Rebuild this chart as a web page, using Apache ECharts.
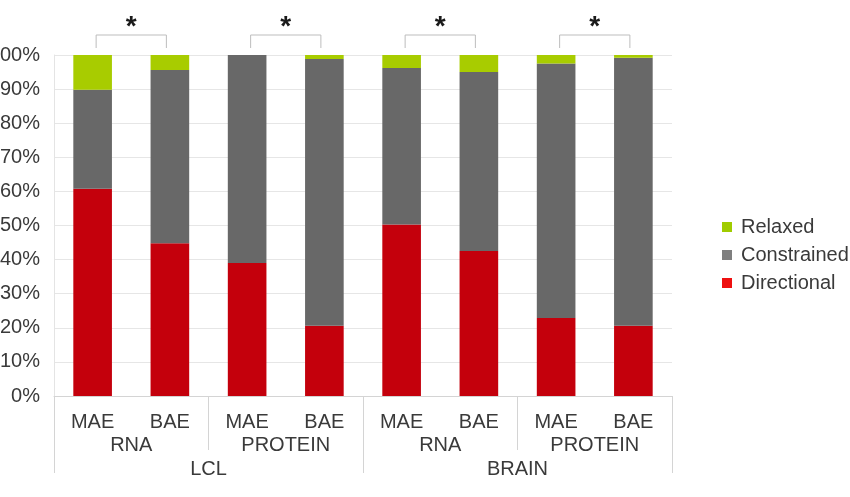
<!DOCTYPE html>
<html>
<head>
<meta charset="utf-8">
<script src="https://cdn.jsdelivr.net/npm/echarts@6/dist/echarts.min.js"></script>
<style>
html,body{margin:0;padding:0;background:#fff;}
#chart{width:850px;height:497px;}
</style>
</head>
<body>
<div id="chart"></div>
<script>
const categories = ['MAE','BAE','MAE','BAE','MAE','BAE','MAE','BAE'];
const assays = ['RNA','PROTEIN','RNA','PROTEIN'];
const tissues = ['LCL','BRAIN'];
const directional = [60.8, 44.8, 39.0, 20.6, 50.3, 42.5, 22.9, 20.6];
const constrained = [29.0, 50.8, 61.0, 78.2, 45.9, 52.5, 74.6, 78.6];
const relaxed = [10.2, 4.4, 0.0, 1.2, 3.8, 5.0, 2.5, 0.8];
const sigPairs = [[0,1],[2,3],[4,5],[6,7]];
const sigLabels = ['*','*','*','*'];
const yTicks = [0,10,20,30,40,50,60,70,80,90,100];

const FONT = 'Liberation Sans, Arial, sans-serif';
const TXT = '#3a3a3a';
const LINE = '#d4d4d4';

const chart = echarts.init(document.getElementById('chart'), null, {renderer:'canvas'});
const option = {
  animation: false,
  backgroundColor: '#fff',
  grid: {left: 54, top: 55, width: 618, height: 341, containLabel: false, outerBoundsMode: 'none'},
  legend: {
    orient: 'vertical',
    left: 717,
    top: 212,
    itemWidth: 10,
    itemHeight: 10,
    itemGap: 8,
    icon: 'rect',
    textStyle: {fontFamily: FONT, fontSize: 20, color: TXT, padding: [0,0,0,4]},
    data: [
      {name: 'Relaxed', itemStyle: {color: '#a0cc00'}},
      {name: 'Constrained', itemStyle: {color: '#7f7f7f'}},
      {name: 'Directional', itemStyle: {color: '#ee1010'}}
    ]
  },
  xAxis: [
    {
      type: 'category', data: categories, position: 'bottom',
      axisLine: {show: true, lineStyle: {color: LINE, width: 1}},
      axisTick: {show: false},
      axisLabel: {margin: 16, fontFamily: FONT, fontSize: 20, color: TXT, interval: 0}
    },
    {
      type: 'category', data: assays, position: 'bottom', offset: 0,
      axisLine: {show: false},
      axisTick: {show: true, length: 54, lineStyle: {color: LINE, width: 1}},
      axisLabel: {margin: 39, fontFamily: FONT, fontSize: 20, color: TXT, interval: 0}
    },
    {
      type: 'category', data: tissues, position: 'bottom', offset: 0,
      axisLine: {show: false},
      axisTick: {show: true, length: 77, lineStyle: {color: LINE, width: 1}},
      axisLabel: {margin: 63, fontFamily: FONT, fontSize: 20, color: TXT, interval: 0}
    }
  ],
  yAxis: {
    type: 'value', min: yTicks[0], max: yTicks[yTicks.length-1], interval: 10,
    axisLine: {show: true, lineStyle: {color: '#e4e4e4'}},
    axisTick: {show: false},
    splitLine: {show: true, lineStyle: {color: '#e6e6e6', width: 1}},
    axisLabel: {margin: 14, fontFamily: FONT, fontSize: 20, color: TXT, formatter: '{value}%'}
  },
  series: [
    {name: 'Directional', type: 'bar', stack: 'a', data: directional, barWidth: '50%', itemStyle: {color: '#c4000c'}},
    {name: 'Constrained', type: 'bar', stack: 'a', data: constrained, barWidth: '50%', itemStyle: {color: '#686868'}},
    {name: 'Relaxed', type: 'bar', stack: 'a', data: relaxed, barWidth: '50%', itemStyle: {color: '#a8cc00'}},
    {
      name: 'sig', type: 'custom', clip: false, silent: true,
      encode: {x: [0,1], y: 2},
      data: sigPairs.map((p, i) => [p[0], p[1], 100, i]),
      renderItem: function (params, api) {
        const a = api.coord([api.value(0), api.value(2)]);
        const b = api.coord([api.value(1), api.value(2)]);
        const inset = 3.5;
        const x0 = a[0] + inset, x1 = b[0] - inset;
        const yTop = a[1] - 20, yBot = a[1] - 7;
        return {
          type: 'group',
          children: [
            {type: 'polyline', shape: {points: [[x0, yBot], [x0, yTop], [x1, yTop], [x1, yBot]]},
             style: {stroke: '#bdbdbd', lineWidth: 1, fill: null}},
            {type: 'text', x: (x0 + x1) / 2, y: yTop + 6,
             style: {text: sigLabels[api.value(3)], fontFamily: FONT, fontSize: 28, fontWeight: 'bold',
                     fill: '#1a1a1a', align: 'center', verticalAlign: 'bottom'}}
          ]
        };
      }
    }
  ]
};
chart.setOption(option);
</script>
</body>
</html>
